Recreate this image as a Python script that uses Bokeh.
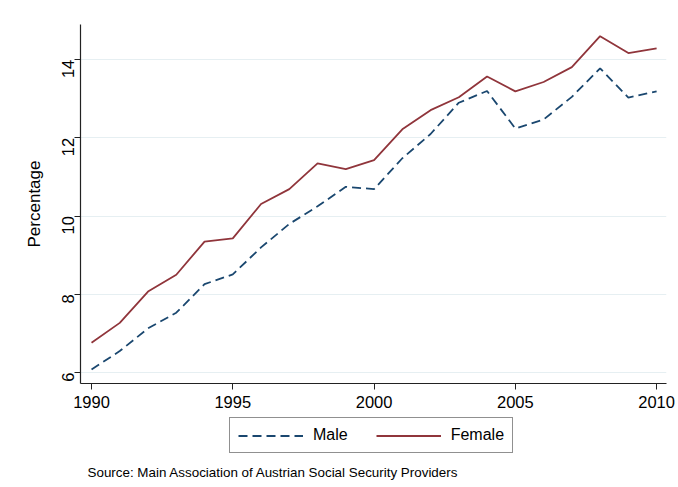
from bokeh.plotting import figure
from bokeh.layouts import column
from bokeh.models import Range1d, FixedTicker, Legend, LegendItem, Label, ColumnDataSource
from bokeh.embed import file_html
from bokeh.resources import INLINE
import math

years = list(range(1990, 2011))
male = [6.08, 6.55, 7.13, 7.53, 8.26, 8.51, 9.2, 9.8, 10.25, 10.75, 10.69,
        11.48, 12.1, 12.9, 13.2, 12.24, 12.47, 13.05, 13.78, 13.03, 13.19]
female = [6.76, 7.27, 8.07, 8.5, 9.35, 9.43, 10.31, 10.69, 11.35, 11.2, 11.43,
          12.22, 12.71, 13.04, 13.57, 13.19, 13.43, 13.81, 14.6, 14.17, 14.29]
x_ticks = [1990, 1995, 2000, 2005, 2010]
y_ticks = [6, 8, 10, 12, 14]
series_names = ["Male", "Female"]
source_note = "Source: Main Association of Austrian Social Security Providers"

FONT = "Liberation Sans"
MALE_STYLE = dict(line_color="#1a476f", line_width=1.8, line_dash="9 5")
FEMALE_STYLE = dict(line_color="#90353b", line_width=1.8)

p = figure(frame_width=586, frame_height=359, output_backend="svg", toolbar_location=None,
           x_range=Range1d(1989.61, 2010.35), y_range=Range1d(5.72, 14.9),
           min_border_left=80, min_border_right=12, min_border_top=24, min_border_bottom=31)

p.outline_line_color = None
p.background_fill_color = "white"
p.border_fill_color = "white"

p.xgrid.grid_line_color = None
p.ygrid.grid_line_color = "#e6eff2"
p.ygrid.grid_line_width = 1

p.xaxis.ticker = FixedTicker(ticks=x_ticks)
p.yaxis.ticker = FixedTicker(ticks=y_ticks)
for ax in (p.xaxis, p.yaxis):
    ax.axis_line_color = "#222222"
    ax.axis_line_width = 1.2
    ax.major_tick_line_color = "#222222"
    ax.major_tick_out = 6
    ax.major_tick_in = 0
    ax.minor_tick_line_color = None
    ax.major_label_text_font = FONT
    ax.major_label_text_font_size = "16.5px"
    ax.major_label_text_color = "black"
    ax.major_label_standoff = 6

p.yaxis.major_label_orientation = math.pi / 2
p.yaxis.axis_label = "Percentage"
p.yaxis.axis_label_text_font = FONT
p.yaxis.axis_label_text_font_size = "17px"
p.yaxis.axis_label_text_font_style = "normal"
p.yaxis.axis_label_text_color = "black"
p.yaxis.axis_label_standoff = 10

src = ColumnDataSource(dict(year=years, male=male, female=female))
p.line("year", "male", source=src, **MALE_STYLE)
p.line("year", "female", source=src, **FEMALE_STYLE)

# Footer figure holding the legend and the source note (frame aligned with main frame)
f = figure(frame_width=586, height=73, output_backend="svg", toolbar_location=None,
           x_range=Range1d(0, 586), y_range=Range1d(0, 73),
           min_border_left=80, min_border_right=12, min_border_top=0, min_border_bottom=0)
f.axis.visible = False
f.grid.visible = False
f.outline_line_color = None
f.background_fill_color = "white"
f.border_fill_color = "white"

nan = float("nan")
lm = f.line(x=[nan], y=[nan], **MALE_STYLE)
lf = f.line(x=[nan], y=[nan], **FEMALE_STYLE)

legend = Legend(items=[LegendItem(label=series_names[0], renderers=[lm]),
                       LegendItem(label=series_names[1], renderers=[lf])],
                orientation="horizontal", location=(149, 34),
                label_text_font=FONT, label_text_font_size="16px", label_text_color="black",
                glyph_width=65, glyph_height=17, label_standoff=10, spacing=28,
                padding=8, margin=0,
                border_line_color="#222222", border_line_width=1,
                background_fill_color="white")
f.add_layout(legend, "center")

note = Label(x=7, y=15, x_units="screen", y_units="screen", text=source_note,
             text_font=FONT, text_font_size="13.4px", text_color="black",
             text_baseline="middle")
f.add_layout(note, "center")

layout = column(p, f, spacing=0)
open("out.html", "w").write(file_html(layout, INLINE))
